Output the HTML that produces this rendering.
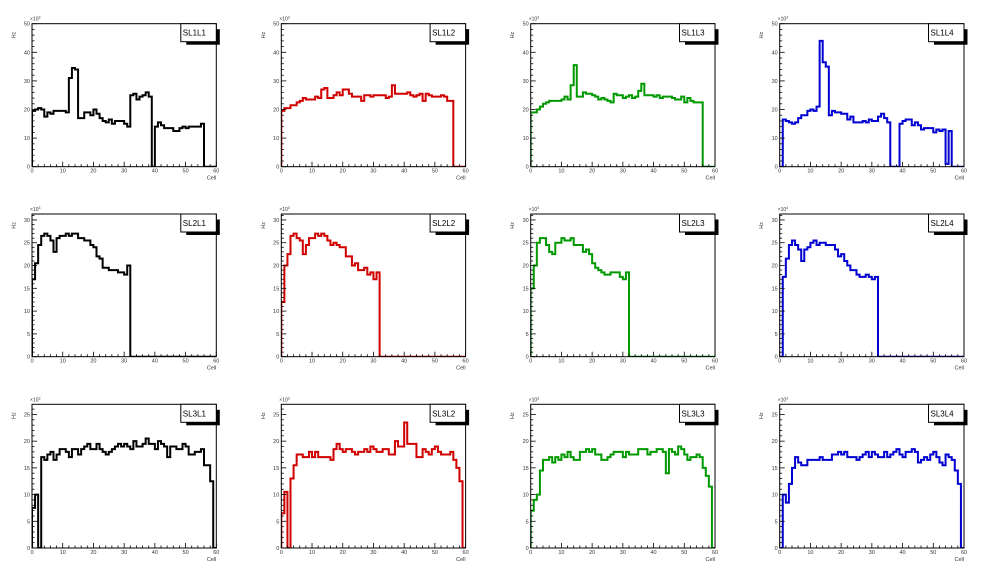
<!DOCTYPE html>
<html><head><meta charset="utf-8">
<style>
html,body{margin:0;padding:0;background:#fff;}
svg{display:block;font-family:"Liberation Sans",sans-serif;}
</style></head>
<body>
<svg id="c" width="996" height="572" viewBox="0 0 996 572"></svg>
<script>
const titles = ["SL1L1","SL1L2","SL1L3","SL1L4","SL2L1","SL2L2","SL2L3","SL2L4","SL3L1","SL3L2","SL3L3","SL3L4"];
const colors = ["#000000","#d00000","#009900","#0000d0"];
const yMaxByRow = [50, 31.3, 26.9];
const yMajorByRow = [10, 5, 5];
const yMinorByRow = [2, 1, 1];
const xTicks = [0,10,20,30,40,50,60];

const sl1l1 = [19.5,20,20.5,20,17.5,19,18.5,19.5,19.5,19.5, 19.5,19,31,34.5,34,17,17,19,19,18, 20,18.5,17,16,15.5,16.5,15,16,16,16, 15,14,25,25.5,23.5,24.5,25,26,24.5,0, 14,15.5,14.5,13.5,13.5,13.5,12.5,12.5,13.5,14, 13.5,14,14,14,14,15,0,0,0,0];
const sl1l2 = [19.5,20.5,20.5,21.5,21.5,22.5,23,24,23.5,23.5, 23.5,24.5,24,27,27.5,24,24,25,26,25, 27,27,25.5,24.5,24.5,24.5,23,25,25,24.5, 25,25,25,25,24,24.5,28.5,25.5,25.5,25.5, 25.5,26,25,24.5,25,25.5,23,25.5,25,24.5, 24.5,24.5,25,24.5,23,23,0,0,0,0];
const sl1l3 = [19,19,20,21,22,22.5,23,23,23,23, 23.5,24.5,23.5,28.5,35.5,24.5,24.5,26,25.5,25.5, 25,24.5,23.5,24,23.5,23,22.5,25.5,25,25, 24,24.5,25,24,24.5,26.5,29,25,25,25, 24.5,25,24,24.5,24.5,24.5,24,23.5,23.5,24.5, 22.5,24,23,22.5,22.5,22.5,0,0,0,0];
const sl1l4 = [0,16.5,16,15.5,15,15.5,17,18,18,19.5, 20,19.5,21,44,36.5,35,18,19.5,19,19, 18.5,18.5,16.5,17.5,15.5,15.5,15.5,16,15.5,16.5, 16,16,17.5,18.5,17,15.5,0,0,0,15, 16,16.5,16.5,14.5,15.5,14.5,13,13.5,13.5,13.5, 12,13,12.5,13,1,12.5,0,0,0,0];
const sl2l1 = [17,20.5,24.5,26.5,27,26.5,25.5,23,26,26.5, 26.5,27,26.5,27,27,26,26,25.5,25.5,24.5, 24,22,21.5,19.5,19.5,19,19,19,18.5,18.5, 18,20,0,0,0,0,0,0,0,0, 0,0,0,0,0,0,0,0,0,0, 0,0,0,0,0,0,0,0,0,0];
const sl2l2 = [12,20,22.5,26.5,27,26,25.5,22.5,24.5,26, 26,27,26.5,27,26.5,25.5,24.5,25,24.5,24, 24,22,22,20,20.5,19,19,19.5,18,18.5, 17,18.5,0,0,0,0,0,0,0,0, 0,0,0,0,0,0,0,0,0,0, 0,0,0,0,0,0,0,0,0,0];
const sl2l3 = [15,20,25,26,26,24.5,23,22.5,25,25, 26,25.5,25.5,26,24.5,24.5,24.5,23,23.5,22.5, 20.5,19.5,19,18.5,18,18,18.5,18.5,18.5,17.5, 17,18.5,0,0,0,0,0,0,0,0, 0,0,0,0,0,0,0,0,0,0, 0,0,0,0,0,0,0,0,0,0];
const sl2l4 = [0,17.5,21.5,24.5,25.5,24.5,23.5,21,23.5,24, 25,25.5,24.5,25,25,24.5,24.5,24.5,23.5,22, 22.5,21,20,19,19,18,17.5,17.5,18,17.5, 17,17.5,0,0,0,0,0,0,0,0, 0,0,0,0,0,0,0,0,0,0, 0,0,0,0,0,0,0,0,0,0];
const sl3l1 = [7.5,10,0,17,16.5,17.5,18,16.5,17.5,18.5, 18.5,18,17,18.5,18.5,17.5,18.5,19,19.5,18.5, 18.5,19.5,18.5,18,17.5,18,18.5,19,19.5,19, 19.5,19,18.5,20,19,19,19.5,20.5,19.5,19.5, 18.5,20,19.5,19,17,19,19,18.5,18.5,19.5, 19,17.5,17.5,18,18,18.5,15.5,15.5,12.5,0];
const sl3l2 = [6.5,10.5,0,13,15.5,17.5,17.5,17,17,18, 17,18,17,17,17,17,16.5,18.5,19.5,18.5, 18,18.5,18.5,18,17.5,18,18,18.5,18,19, 18.5,18,18,18.5,18.5,17.5,17.5,20,19,19, 23.5,19.5,19.5,19.5,17,17,18.5,18,17.5,18.5, 19,18,17.5,17.5,17.5,18,16.5,15,12.5,0];
const sl3l3 = [7,9,10,14.5,16.5,16.5,17,16,17,16.5, 17.5,17,18,17,16.5,16.5,18,18,18.5,18, 18.5,17.5,17.5,16.5,16.5,17,17.5,18,18,18, 17,18,17.5,17.5,17.5,18.5,18.5,18.5,17.5,18, 18,18.5,18.5,18,14,18.5,18,17.5,19,18.5, 17.5,16.5,17,17,17.5,17,15,13.5,11.5,0];
const sl3l4 = [0,10,8.5,12,15,17,16,15.5,15.5,16.5, 16.5,16.5,16.5,17,16.5,16.5,16.5,17.5,17.5,18, 17.5,18,17,17,17,16.5,17,17.5,18,17, 18,17.5,17,17,18,17,17.5,18,18.5,17.5, 17,18,18,18.5,18,16,16.5,17,16.5,17.5, 18,17,16,15.5,17.5,17,16.5,14.5,12,0];
const series = [sl1l1,sl1l2,sl1l3,sl1l4,sl2l1,sl2l2,sl2l3,sl2l4,sl3l1,sl3l2,sl3l3,sl3l4];

const NS = "http://www.w3.org/2000/svg";
const svg = document.getElementById("c");
const colX = [32, 281.3, 530.7, 779.7];
const frameW = 184.3;
const rowTop = [23.7, 214, 404.3];
const rowBot = [166.7, 356.7, 548];
const XMAX = 60;

function mk(tag, attrs, parent){
  const e = document.createElementNS(NS, tag);
  for (const k in attrs) e.setAttribute(k, attrs[k]);
  (parent||svg).appendChild(e);
  return e;
}

for (let p = 0; p < 12; p++) {
  const r = Math.floor(p/4), c = p % 4;
  const x0 = colX[c], x1 = x0 + frameW, yT = rowTop[r], yB = rowBot[r];
  const ymax = yMaxByRow[r];
  const sx = v => x0 + v/XMAX*(x1-x0);
  const sy = v => yB - v/ymax*(yB-yT);
  const g = mk("g", {});
  
  

  const clipId = "clip"+p;
  const cp = mk("clipPath", {id: clipId}, g);
  mk("rect", {x: x0, y: yT, width: x1-x0, height: yB-yT}, cp);

  const vals = series[p];
  let d = "M" + sx(0) + "," + sy(0);
  for (let i = 0; i < vals.length; i++) {
    d += " L" + sx(i) + "," + sy(vals[i]) + " L" + sx(i+1) + "," + sy(vals[i]);
  }
  d += " L" + sx(vals.length) + "," + sy(0);
  const path = mk("path", {d: d, fill: "none", stroke: colors[c], "stroke-width": 2, "clip-path": "url(#"+clipId+")"}, g);
  
  

  const fr = mk("rect", {x: x0, y: yT, width: x1-x0, height: yB-yT, fill: "none", stroke: "#000", "stroke-width": 1}, g);
  
  

  const yMaj = yMajorByRow[r], yMin = yMinorByRow[r];
  for (let v = 0; v <= ymax + 1e-6; v += yMin) {
    const isMaj = Math.abs(v/yMaj - Math.round(v/yMaj)) < 1e-6;
    mk("line", {x1: x0, x2: x0 + (isMaj?5:2.5), y1: sy(v), y2: sy(v), stroke: "#000", "stroke-width": 0.8}, g);
    if (isMaj) {
      const t = mk("text", {x: x0 - 2, y: sy(v) + 2, "font-size": 5.5, "text-anchor": "end", fill: "#333"}, g);
      t.textContent = String(Math.round(v));
      
      
    }
  }
  for (let v = 0; v <= XMAX; v += 2) {
    const isMaj = v % 10 === 0;
    mk("line", {x1: sx(v), x2: sx(v), y1: yB, y2: yB - (isMaj?5:2.5), stroke: "#000", "stroke-width": 0.8}, g);
  }
  xTicks.forEach(v => {
    const t = mk("text", {x: sx(v), y: yB + 6, "font-size": 5.5, "text-anchor": "middle", fill: "#333"}, g);
    t.textContent = String(v);
    
    
  });

  const ex = mk("text", {x: x0 - 2, y: yT - 3, "font-size": 5, fill: "#333"}, g);
  ex.textContent = "×10";
  
  
  const ts = mk("tspan", {dy: -2, "font-size": 3.5}, ex);
  ts.textContent = "3";

  const hz = mk("text", {x: 0, y: 0, "font-size": 5.5, "text-anchor": "end", fill: "#333", transform: "translate(" + (x0-16.5) + "," + (yT+8) + ") rotate(-90)"}, g);
  hz.textContent = "Hz";
  
  
  const cl = mk("text", {x: x1, y: yB + 13, "font-size": 5.5, "text-anchor": "end", fill: "#333"}, g);
  cl.textContent = "Cell";
  
  

  const lg = mk("g", {}, g);
  
  
  mk("rect", {x: x1 - 30, y: yT + 5.5, width: 33.5, height: 15.5, fill: "#000"}, lg);
  mk("rect", {x: x1 - 35.5, y: yT, width: 35.5, height: 18, fill: "#fff", stroke: "#000", "stroke-width": 1}, lg);
  const lt = mk("text", {x: x1 - 33.5, y: yT + 12, "font-size": 8, fill: "#000"}, lg);
  lt.textContent = titles[p];
  
  
}
</script>
</body></html>
